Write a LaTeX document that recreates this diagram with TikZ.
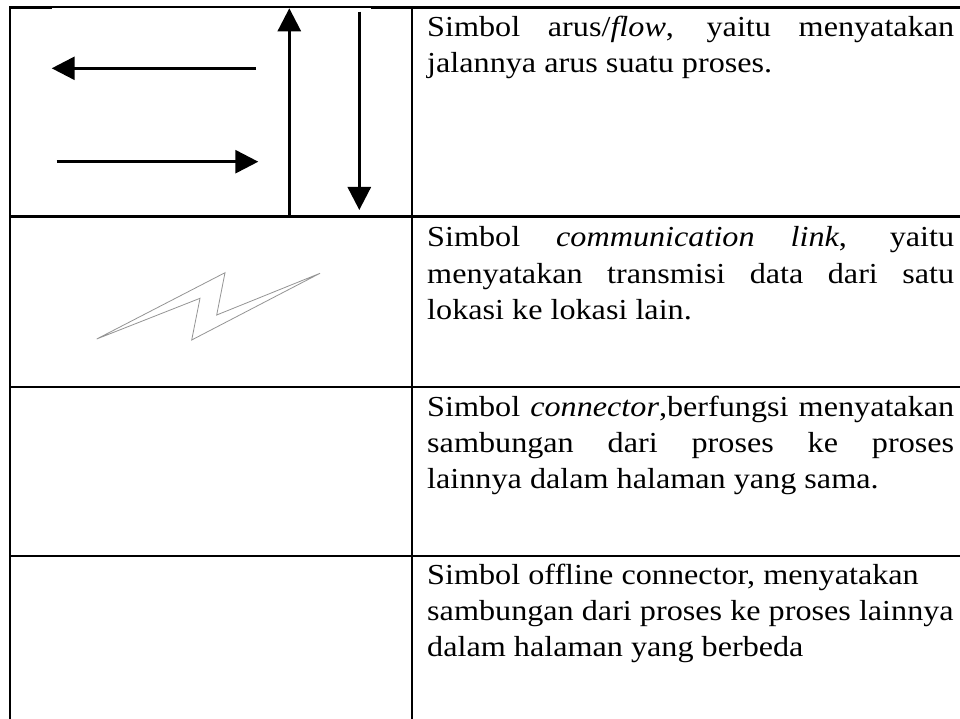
\documentclass[tikz,border=0pt]{standalone}
\usepackage{fontspec}
\usepackage{graphicx}
\setmainfont{Liberation Serif}
\usetikzlibrary{arrows.meta}
\newcommand\hsx[1]{\scalebox{1.11}[1]{#1}}
\newcommand\jline[1]{\hsx{\makebox[474.8pt][s]{#1}}}
\begin{document}
\begin{tikzpicture}[x=1pt,y=-1pt,
  rule/.style={line width=2.5pt, black},
  flowarrow/.style={line width=2.8pt, -{Triangle[length=23pt,width=23pt]}},
  txt/.style={anchor=base west, inner sep=0pt, font=\fontsize{29}{36}\selectfont},
  bolt/.style={draw=black!42, line width=0.8pt, line join=miter}]
\useasboundingbox (0,0) rectangle (960,719);
\fill[white] (0,0) rectangle (960,719);
% table rules
\draw[rule] (10,7.5) -- (960,7.5);
\draw[rule] (10,216.5) -- (960,216.5);
\draw[rule] (10,387) -- (960,387);
\draw[rule] (10,556) -- (960,556);
\draw[rule] (10,6.3) -- (10,719);
\draw[rule] (412,6.3) -- (412,719);
% image background of the flow symbol (covers part of the top rule)
\fill[white] (52,8.2) rectangle (371,215);
% flow arrows
\coordinate (la1) at (256,68.3);  \coordinate (la2) at (51.7,68.3);
\coordinate (ra1) at (56.7,161.7); \coordinate (ra2) at (258.3,161.7);
\coordinate (ua1) at (289.3,215);  \coordinate (ua2) at (289.3,8.3);
\coordinate (da1) at (359.3,11.7); \coordinate (da2) at (359.3,210);
\draw[flowarrow] (la1) -- (la2);
\draw[flowarrow] (ra1) -- (ra2);
\draw[flowarrow] (ua1) -- (ua2);
\draw[flowarrow] (da1) -- (da2);
% communication link bolt
\draw[bolt] (96.7,339) -- (225,272.7) -- (216.7,315) -- (320,273.3) -- (191.7,340) -- (200,298.3) -- cycle;
% texts
\node[txt] (r1a) at (427,37) {\jline{Simbol arus/\textit{flow}, yaitu menyatakan}};
\node[txt] (r1b) at (427,73) {\hsx{jalannya arus suatu proses.}};
\node[txt] (r2a) at (427,247) {\jline{Simbol \textit{communication link}, yaitu}};
\node[txt] (r2b) at (427,283) {\jline{menyatakan transmisi data dari satu}};
\node[txt] (r2c) at (427,319) {\hsx{lokasi ke lokasi lain.}};
\node[txt] (r3a) at (427,416) {\jline{Simbol \textit{connector},berfungsi menyatakan}};
\node[txt] (r3b) at (427,452) {\jline{sambungan dari proses ke proses}};
\node[txt] (r3c) at (427,488) {\hsx{lainnya dalam halaman yang sama.}};
\node[txt] (r4a) at (427,584) {\hsx{Simbol offline connector, menyatakan}};
\node[txt] (r4b) at (427,620) {\hsx{sambungan dari proses ke proses lainnya}};
\node[txt] (r4c) at (427,656) {\hsx{dalam halaman yang berbeda}};
\end{tikzpicture}
\end{document}
